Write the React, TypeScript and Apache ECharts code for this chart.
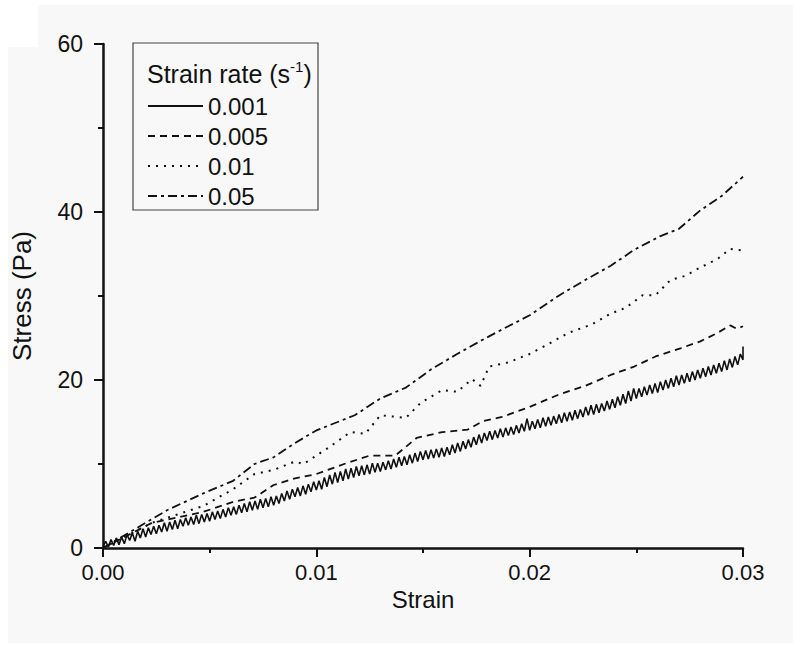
import React, { useEffect, useRef } from "react";
import * as echarts from "echarts";

const seriesNames = ["0.001", "0.005", "0.01", "0.05"];
const xTicks = ["0.00", "0.01", "0.02", "0.03"];

// Strain rate 0.001 s^-1 (noisy solid line), read every 0.000125 of strain
const rate001Step = 0.000125;
const rate001Stress: number[] = [
  0.2, 0.8, 0.1, 1.0, 0.3, 1.2, 0.4, 1.3,
  0.5, 1.6, 0.9, 1.8, 0.8, 2.0, 1.2, 2.3,
  1.3, 2.4, 1.6, 2.6, 1.7, 2.7, 1.9, 3.0,
  2.0, 3.1, 2.2, 3.3, 2.3, 3.4, 2.6, 3.6,
  2.7, 3.7, 2.8, 3.9, 2.9, 4.0, 3.1, 4.1,
  3.2, 4.3, 3.4, 4.4, 3.5, 4.6, 3.7, 4.8,
  3.9, 4.9, 4.0, 5.1, 4.2, 5.3, 4.3, 5.5,
  4.5, 5.6, 4.6, 5.8, 4.8, 5.9, 4.9, 6.1,
  5.1, 6.2, 5.3, 6.5, 5.6, 6.8, 5.8, 7.0,
  6.1, 7.2, 6.2, 7.4, 6.4, 7.6, 6.7, 7.9,
  6.9, 8.0, 7.0, 8.4, 7.3, 8.7, 7.6, 9.0,
  7.8, 9.1, 8.0, 9.4, 8.2, 9.5, 8.4, 9.7,
  8.6, 9.8, 8.7, 9.9, 8.8, 10.1, 9.0, 10.1,
  9.1, 10.2, 9.3, 10.4, 9.4, 10.6, 9.6, 10.8,
  9.8, 10.9, 9.9, 11.1, 10.1, 11.3, 10.3, 11.5,
  10.5, 11.6, 10.6, 11.7, 10.7, 11.8, 10.8, 11.9,
  10.9, 12.0, 11.1, 12.3, 11.3, 12.5, 11.5, 12.7,
  11.8, 12.9, 12.0, 13.2, 12.3, 13.5, 12.5, 13.7,
  12.8, 13.9, 12.9, 14.0, 13.1, 14.2, 13.2, 14.3,
  13.4, 14.4, 13.5, 14.6, 13.7, 14.8, 13.9, 15.4,
  14.0, 15.1, 14.2, 15.3, 14.3, 15.5, 14.5, 15.6,
  14.6, 15.7, 14.8, 15.9, 14.9, 16.1, 15.1, 16.2,
  15.2, 16.4, 15.4, 16.5, 15.6, 16.8, 15.8, 17.0,
  15.9, 17.1, 16.1, 17.2, 16.3, 17.5, 16.5, 17.7,
  16.7, 18.0, 17.0, 18.3, 17.2, 18.7, 17.5, 19.0,
  17.8, 19.0, 18.0, 19.2, 18.2, 19.4, 18.4, 19.6,
  18.5, 19.8, 18.8, 20.0, 19.0, 20.2, 19.2, 20.5,
  19.4, 20.6, 19.6, 20.8, 19.8, 21.0, 20.0, 21.2,
  20.2, 21.4, 20.4, 21.6, 20.6, 21.8, 20.8, 22.0,
  21.0, 22.3, 21.2, 22.5, 21.5, 22.8, 21.8, 23.1,
  22.4,
];
// final upward spike at the end of the 0.001 curve
const rate001EndSpike: number[] = [0.03, 24.0];

// Strain rate 0.005 s^-1 (dashed)
const rate005Strain: number[] = [
  0, 0.0023, 0.0047, 0.0061, 0.0071, 0.008, 0.009, 0.01, 0.0113, 0.0125,
  0.0137, 0.0147, 0.0159, 0.0171, 0.0178, 0.0187, 0.02, 0.0214, 0.0226, 0.0238,
  0.0249, 0.0259, 0.0271, 0.028, 0.0288, 0.0294, 0.0297, 0.03,
];
const rate005Stress: number[] = [
  0, 3.0, 4.3, 5.5, 6.0, 7.5, 8.3, 8.8, 10.0, 11.0,
  11.0, 13.1, 13.8, 14.1, 15.1, 15.6, 16.8, 18.3, 19.3, 20.6,
  21.6, 22.8, 23.8, 24.6, 25.6, 26.5, 26.1, 26.4,
];

// Strain rate 0.01 s^-1 (dotted)
const rate01Strain: number[] = [
  0, 0.0023, 0.0047, 0.0061, 0.0071, 0.008, 0.009, 0.0094, 0.0106, 0.0116,
  0.0123, 0.013, 0.0142, 0.0149, 0.0159, 0.0166, 0.0173, 0.0177, 0.0181, 0.019,
  0.02, 0.0209, 0.0218, 0.0229, 0.0238, 0.0245, 0.0253, 0.0259, 0.0266, 0.0273,
  0.028, 0.0288, 0.0294, 0.03,
];
const rate01Stress: number[] = [
  0, 3.0, 5.0, 7.0, 8.8, 9.3, 10.3, 10.0, 12.0, 13.8,
  13.6, 15.8, 15.5, 17.3, 18.8, 18.6, 20.1, 19.3, 21.6, 22.1,
  23.1, 24.3, 25.6, 26.6, 27.9, 28.6, 30.1, 30.1, 31.9, 32.4,
  33.4, 34.4, 35.6, 35.4,
];

// Strain rate 0.05 s^-1 (dash-dot)
const rate05Strain: number[] = [
  0, 0.003, 0.0047, 0.0061, 0.0071, 0.008, 0.009, 0.01, 0.0118, 0.013,
  0.0142, 0.0154, 0.0166, 0.0178, 0.019, 0.02, 0.0214, 0.0226, 0.0238, 0.0249,
  0.0261, 0.027, 0.028, 0.029, 0.03,
];
const rate05Stress: number[] = [
  0, 4.5, 6.5, 8.0, 10.0, 10.8, 12.5, 14.0, 15.8, 17.8,
  19.1, 21.3, 23.1, 24.8, 26.4, 27.7, 30.1, 31.9, 33.6, 35.5,
  37.1, 38.0, 40.2, 41.9, 44.2,
];

const FONT = "'Liberation Sans', Arial, Helvetica, sans-serif";
const INK = "#111";
const BG = "#f8f8f8";

function pairs(xs: number[], ys: number[]) {
  return xs.map((x, i) => [x, ys[i]]);
}

export default function App() {
  const ref = useRef<HTMLDivElement>(null);

  useEffect(() => {
    if (!ref.current) return;
    const chart = echarts.init(ref.current, undefined, { renderer: "svg" });

    const lineSeries = (
      name: string,
      data: number[][],
      type: any,
      width: number,
      z: number
    ) => ({
      name,
      type: "line",
      data,
      symbol: "none",
      showSymbol: false,
      z,
      lineStyle: { color: INK, width, type },
      itemStyle: { color: INK },
    });

    const solidData = rate001Stress.map((v, i) => [i * rate001Step, v]);
    solidData.push(rate001EndSpike);

    chart.setOption({
      animation: false,
      backgroundColor: "#ffffff",
      textStyle: { fontFamily: FONT, color: INK },
      graphic: [
        {
          type: "rect",
          z: -10,
          silent: true,
          shape: { x: 8, y: 5, width: 785, height: 638 },
          style: { fill: BG },
        },
        {
          type: "rect",
          z: -9,
          silent: true,
          shape: { x: 8, y: 5, width: 30, height: 42 },
          style: { fill: "#ffffff" },
        },
        {
          type: "rect",
          z: 5,
          silent: true,
          shape: { x: 133, y: 43, width: 185, height: 167 },
          style: { fill: "none", stroke: "#444", lineWidth: 1.2 },
        },
        {
          type: "text",
          z: 6,
          silent: true,
          x: 147,
          y: 74,
          style: {
            text: "{a|Strain rate (s}{s|-1}{a|)}",
            fontFamily: FONT,
            fill: INK,
            verticalAlign: "middle",
            rich: {
              a: { fontSize: 25, fontFamily: FONT, fill: INK, lineHeight: 30 },
              s: {
                fontSize: 15,
                fontFamily: FONT,
                fill: INK,
                lineHeight: 15,
                verticalAlign: "top",
              },
            },
          },
        },
      ],
      legend: {
        orient: "vertical",
        left: 147,
        top: 91,
        padding: 0,
        itemGap: 0,
        itemWidth: 55,
        itemHeight: 14,
        data: seriesNames,
        itemStyle: { opacity: 0 },
        textStyle: { fontSize: 24, fontFamily: FONT, color: INK, lineHeight: 30 },
      },
      grid: { left: 103, right: 53, top: 44, bottom: 114, containLabel: false },
      xAxis: {
        type: "value",
        min: 0,
        max: 0.03,
        interval: 0.01,
        name: "Strain",
        nameLocation: "middle",
        nameGap: 37,
        nameTextStyle: { fontSize: 24, fontFamily: FONT, color: INK },
        axisLine: { show: true, onZero: false, lineStyle: { color: INK, width: 2.5 } },
        axisTick: { show: true, inside: false, length: 9, lineStyle: { color: INK, width: 2 } },
        minorTick: { show: true, splitNumber: 2, length: 5, lineStyle: { color: INK, width: 2 } },
        splitLine: { show: false },
        minorSplitLine: { show: false },
        axisLabel: {
          fontSize: 22,
          fontFamily: FONT,
          color: INK,
          margin: 13,
          formatter: (v: number) => xTicks[Math.round(v / 0.01)] ?? String(v),
        },
      },
      yAxis: {
        type: "value",
        min: 0,
        max: 60,
        interval: 20,
        name: "Stress (Pa)",
        nameLocation: "middle",
        nameGap: 68,
        nameRotate: 90,
        nameTextStyle: { fontSize: 26, fontFamily: FONT, color: INK },
        axisLine: { show: true, onZero: false, lineStyle: { color: INK, width: 2.5 } },
        axisTick: { show: true, inside: false, length: 9, lineStyle: { color: INK, width: 2 } },
        minorTick: { show: true, splitNumber: 2, length: 5, lineStyle: { color: INK, width: 2 } },
        splitLine: { show: false },
        minorSplitLine: { show: false },
        axisLabel: { fontSize: 23, fontFamily: FONT, color: INK, margin: 20 },
      },
      series: [
        lineSeries(seriesNames[0], solidData, "solid", 1.6, 4),
        lineSeries(seriesNames[1], pairs(rate005Strain, rate005Stress), [7, 5], 1.8, 3),
        lineSeries(seriesNames[2], pairs(rate01Strain, rate01Stress), [2, 6], 2, 2),
        lineSeries(seriesNames[3], pairs(rate05Strain, rate05Stress), [9, 4, 3, 4], 1.8, 1),
      ],
    });

    return () => chart.dispose();
  }, []);

  return (
    <div
      ref={ref}
      style={{ position: "absolute", left: 0, top: 0, width: 796, height: 662 }}
    />
  );
}
